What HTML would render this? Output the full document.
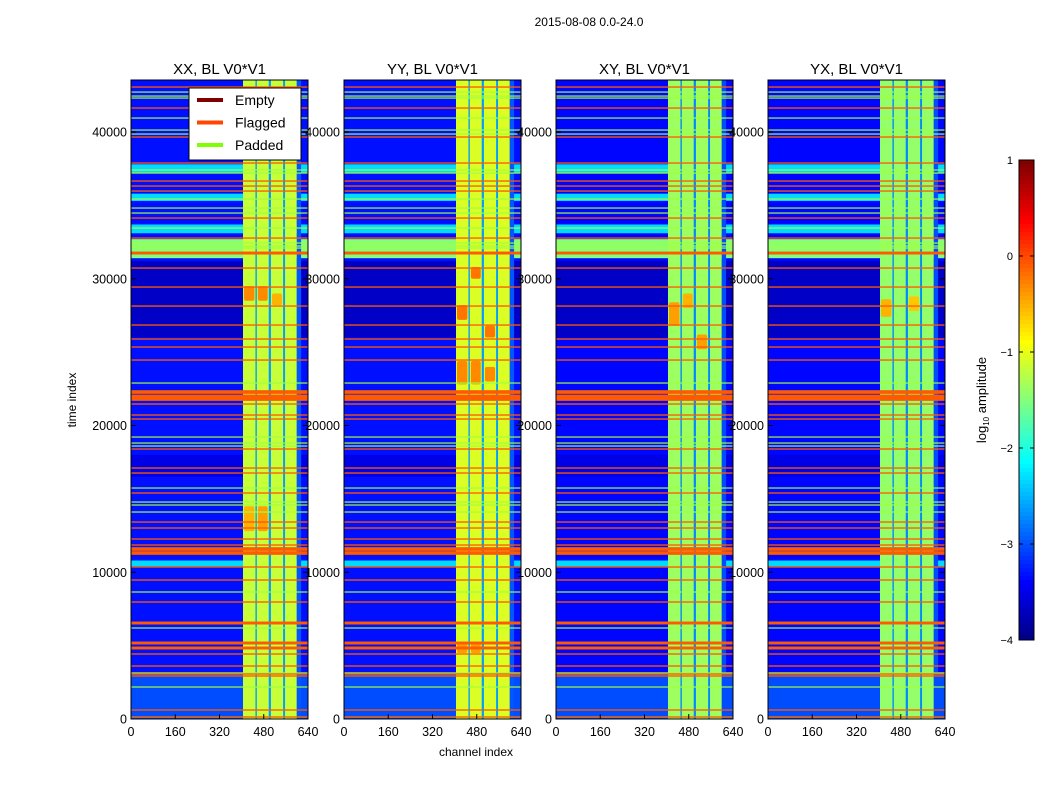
<!DOCTYPE html>
<html><head><meta charset="utf-8">
<style>
html,body{margin:0;padding:0;background:#fff;}
svg{display:block;font-family:"Liberation Sans",sans-serif;}
</style></head>
<body>
<svg id="fig" width="1050" height="800" viewBox="0 0 1050 800">
<text x="589" y="26" font-size="12" text-anchor="middle">2015-08-08 0.0-24.0</text>
<g id="panels"></g>
<text x="476" y="756" font-size="12" text-anchor="middle">channel index</text>
<text x="76" y="400" font-size="12" text-anchor="middle" transform="rotate(-90 76 400)">time index</text>
<g id="cbar"></g>
<text x="986" y="400" font-size="13" text-anchor="middle" transform="rotate(-90 986 400)">log<tspan font-size="8" dy="3">10</tspan><tspan dy="-3"> amplitude</tspan></text>
<g id="legend"></g>
</svg>
<script>
// ---- data ----
const panelTitles = ["XX, BL V0*V1","YY, BL V0*V1","XY, BL V0*V1","YX, BL V0*V1"];
const bgLevel = [-3.3,-3.3,-3.35,-3.35];
const bandLevel = [-1.15,-1.05,-1.35,-1.4];
const gapLevel = [-2.6,-2.6,-2.7,-2.7];
const edgeLevel = [-2.95,-2.95,-3.0,-3.0];
const bandColStart = [405,455,506,557];
const bandColEnd = [450,498,550,599];
const flaggedRows = [43066,41635,39659,37887,36661,36319,35978,34138,32775,31753,30731,29436,28142,26847,25894,25348,24462,22282,22009,21805,21464,20715,20442,18398,17103,16762,15400,13423,13015,12265,11856,11584,11311,10357,9471,7972,6541,5178,4838,4429,3611,3066,2930,613,136];
const flaggedWidth = [90,90,90,90,90,90,90,90,90,200,90,90,90,90,90,90,90,250,200,250,90,90,90,90,90,90,90,90,90,90,90,250,250,90,90,90,200,200,200,90,90,90,90,90,90];
const paddedRows = [42724,42451,42315,40953,40135,39862,37410,37204,35433,34820,34479,33457,32435,32230,32094,22895,19215,18806,18602,15740,14786,14582,14105,8654,6201,3134,2180,136];
const bandStart = [37200,35300,33100,31400,10400,0];
const bandEnd = [37800,35800,33700,32700,10800,3200];
const bandLvl = [-2.3,-2.3,-2.3,-1.5,-2.3,-3.0];
const darkStart = [26000,16500];
const darkEnd = [31200,18000];
const darkLvl = [-3.65,-3.5];
const hotPanel = [0,0,0,0,0,1,1,1,1,1,1,1,1,2,2,2,3,3];
const hotCol = [0,1,2,1,0,0,1,2,0,1,2,0,1,0,1,2,0,2];
const hotStart = [28500,28500,28200,12800,12800,27200,30000,26000,22800,22800,23000,4500,4500,26800,28000,25200,27400,27800];
const hotEnd = [29500,29500,29000,14500,14500,28200,30800,26800,24400,24400,24000,5200,5200,28400,29000,26200,28600,28800];
const hotLvl = [-0.3,-0.3,-0.5,-0.4,-0.5,-0.2,-0.2,-0.2,-0.3,-0.3,-0.3,-0.4,-0.4,-0.4,-0.5,-0.4,-0.5,-0.6];
const xTicks = [0,160,320,480,640];
const yTicks = [0,10000,20000,30000,40000];
const cbTicks = [1,0,-1,-2,-3,-4];
// ---- layout ----
const NS="http://www.w3.org/2000/svg";
const panelX=[131,344,556,768], PW=177, Y0=719, TMAX=43545, NCH=640;
const yScale=t=>Y0-t*(Y0-80)/TMAX;
function jet(v){
  let x=(v+4)/5; x=Math.max(0,Math.min(1,x));
  const c=(a)=>Math.max(0,Math.min(1,a));
  const r=c(1.5-Math.abs(4*x-3)), g=c(1.5-Math.abs(4*x-2)), b=c(1.5-Math.abs(4*x-1));
  return `rgb(${Math.round(r*255)},${Math.round(g*255)},${Math.round(b*255)})`;
}
function mk(tag,attrs,parent){const e=document.createElementNS(NS,tag);for(const k in attrs)e.setAttribute(k,attrs[k]);parent.appendChild(e);return e;}
const panels=document.getElementById('panels');
panelTitles.forEach((title,p)=>{
  const px=panelX[p], xs=ch=>px+ch*PW/NCH;
  const g=mk('g',{},panels);
  
  
  let r=mk('rect',{x:px,y:80,width:PW,height:Y0-80,fill:jet(bgLevel[p])},g);
  
  
  darkStart.forEach((s,i)=>{const e=mk('rect',{x:px,y:yScale(darkEnd[i]),width:PW,height:yScale(s)-yScale(darkEnd[i]),fill:jet(darkLvl[i])},g);
    
    });
  bandStart.forEach((s,i)=>{const e=mk('rect',{x:px,y:yScale(bandEnd[i]),width:PW,height:yScale(s)-yScale(bandEnd[i]),fill:jet(bandLvl[i])},g);
    
    });
  let e0=mk('rect',{x:xs(bandColStart[0]),y:80,width:xs(bandColEnd[3])-xs(bandColStart[0]),height:Y0-80,fill:jet(gapLevel[p])},g);
  
  
  let e1=mk('rect',{x:xs(bandColEnd[3]),y:80,width:xs(615)-xs(bandColEnd[3]),height:Y0-80,fill:jet(edgeLevel[p])},g);
  
  
  bandColStart.forEach((s,i)=>{const e=mk('rect',{x:xs(s),y:80,width:xs(bandColEnd[i])-xs(s),height:Y0-80,fill:jet(bandLevel[p])},g);
    
    });
  hotPanel.forEach((hp,i)=>{if(hp!==p)return;const c=hotCol[i];
    const e=mk('rect',{x:xs(bandColStart[c])+1,y:yScale(hotEnd[i]),width:xs(bandColEnd[c])-xs(bandColStart[c])-2,height:yScale(hotStart[i])-yScale(hotEnd[i]),fill:jet(hotLvl[i]),rx:2},g);
    
    });
  paddedRows.forEach(t=>{const e=mk('rect',{x:px,y:yScale(t)-0.6,width:PW,height:1.2,fill:'#9fff40'},g);
    
    });
  flaggedRows.forEach((t,i)=>{const h=Math.max(1.2,flaggedWidth[i]*(Y0-80)/TMAX);const e=mk('rect',{x:px,y:yScale(t)-h/2,width:PW,height:h,fill:'#ff5a00'},g);
    
    });
  let fr=mk('rect',{x:px,y:80,width:PW,height:Y0-80,fill:'none',stroke:'#000','stroke-width':1},g);
  
  
  let tt=mk('text',{x:px+PW/2,y:74,'font-size':15,'text-anchor':'middle'},g);tt.textContent=title;
  
  
  xTicks.forEach(v=>{const x=xs(v);mk('line',{x1:x,x2:x,y1:Y0,y2:Y0-5,stroke:'#000'},g);
    const t=mk('text',{x:x,y:736,'font-size':12.5,'text-anchor':'middle'},g);t.textContent=v;
    
    });
  yTicks.forEach(v=>{const y=yScale(v);mk('line',{x1:px,x2:px+5,y1:y,y2:y,stroke:'#000'},g);mk('line',{x1:px+PW,x2:px+PW-5,y1:y,y2:y,stroke:'#000'},g);
    const t=mk('text',{x:px-4,y:y+4.5,'font-size':12.5,'text-anchor':'end'},g);t.textContent=v;
    
    });
});
const cb=document.getElementById('cbar');
const cbY=v=>160+(1-v)*96;
for(let i=0;i<120;i++){const v=1-i*5/120;mk('rect',{x:1019,y:cbY(v),width:15,height:4.2,fill:jet(v)},cb);}
mk('rect',{x:1019,y:160,width:15,height:480,fill:'none',stroke:'#000'},cb);
cbTicks.forEach(v=>{mk('line',{x1:1019,x2:1023,y1:cbY(v),y2:cbY(v),stroke:'#000'},cb);mk('line',{x1:1030,x2:1034,y1:cbY(v),y2:cbY(v),stroke:'#000'},cb);
  const t=mk('text',{x:1013,y:cbY(v)+4,'font-size':11,'text-anchor':'end'},cb);t.textContent=v<0?'\u2212'+(-v):v;
  
  });
const lg=document.getElementById('legend');
mk('rect',{x:189,y:88,width:112,height:72,fill:'#fff',stroke:'#000'},lg);
const legNames=['Empty','Flagged','Padded'], legCols=['#800000','#ff4500','#7fff00'];
legNames.forEach((n,i)=>{const y=100+i*22.5;mk('line',{x1:197,x2:223,y1:y,y2:y,stroke:legCols[i],'stroke-width':4},lg);
  const t=mk('text',{x:235,y:y+5,'font-size':14},lg);t.textContent=n;
  
  });
</script>
</body></html>
